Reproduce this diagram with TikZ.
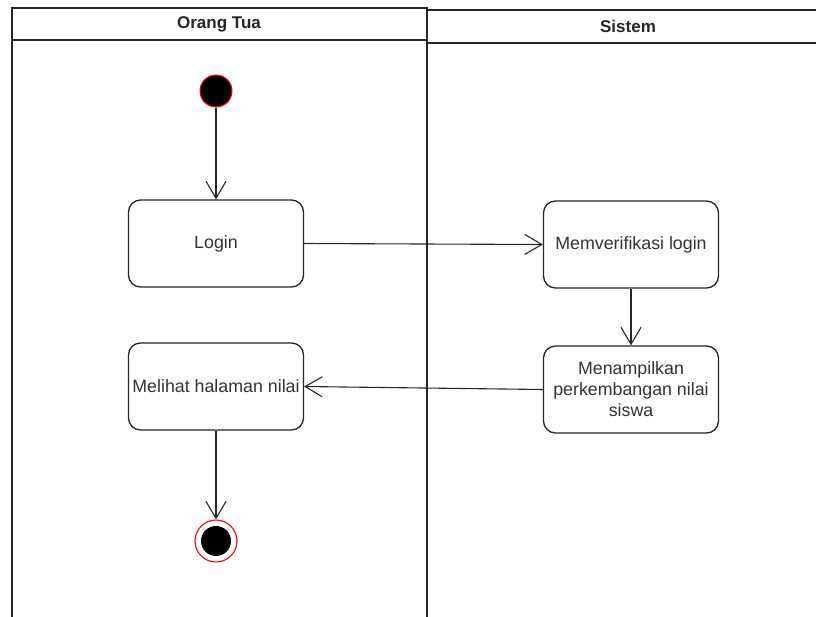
\documentclass[tikz,border=0pt]{standalone}
\usepackage{fontspec}
\setmainfont{Liberation Sans}
\usetikzlibrary{arrows.meta}
\begin{document}
\begin{tikzpicture}[x=1pt,y=-1pt,
  lane/.style={draw=black!85, line width=1.6pt},
  lanetitle/.style={font=\bfseries\fontsize{17}{20}\selectfont, text=black!85},
  act/.style={draw=black!85, line width=1.3pt, rounded corners=12pt,
    minimum width=175pt, minimum height=87pt, align=center, inner sep=1pt,
    text=black!80, font=\fontsize{17.8}{21}\selectfont},
  startnode/.style={circle, fill=black, draw=red, line width=1pt,
    minimum size=32pt, inner sep=0pt},
  endring/.style={circle, fill=white, draw=red, line width=1.1pt,
    minimum size=42pt, inner sep=0pt},
  enddot/.style={circle, fill=black, minimum size=30pt, inner sep=0pt},
  flow/.style={draw=black!85, line width=1.1pt,
    -{Straight Barb[length=17pt,width=20pt,line width=1.1pt]}}]
\useasboundingbox (0,0) rectangle (816,616);
\clip (0,0) rectangle (816,616);

% swimlanes
\draw[lane] (12,8) rectangle (427,640);
\draw[lane] (12,40) -- (427,40);
\draw[lane] (427,10) rectangle (840,640);
\draw[lane] (427,43) -- (840,43);
\node[lanetitle] (laneA) at (219,24) {Orang Tua};
\node[lanetitle] (laneB) at (628,26) {Sistem};

% activities
\node[startnode] (start) at (216,91) {};
\node[act] (login) at (216,243.5) {Login};
\node[act] (verif) at (631,244.5) {Memverifikasi login};
\node[act] (tampil) at (631,389.5) {Menampilkan\\perkembangan nilai\\siswa};
\node[act] (lihat) at (216,386.5) {Melihat halaman nilai};
\node[endring] (stop) at (216,541) {};
\node[enddot] (stopdot) at (stop.center) {};

% control flow
\draw[flow] (start) -- (login);
\draw[flow] (login.east) -- (verif.west);
\draw[flow] (verif) -- (tampil);
\draw[flow] (tampil.west) -- (lihat.east);
\draw[flow] (lihat) -- (stop);
\end{tikzpicture}
\end{document}
